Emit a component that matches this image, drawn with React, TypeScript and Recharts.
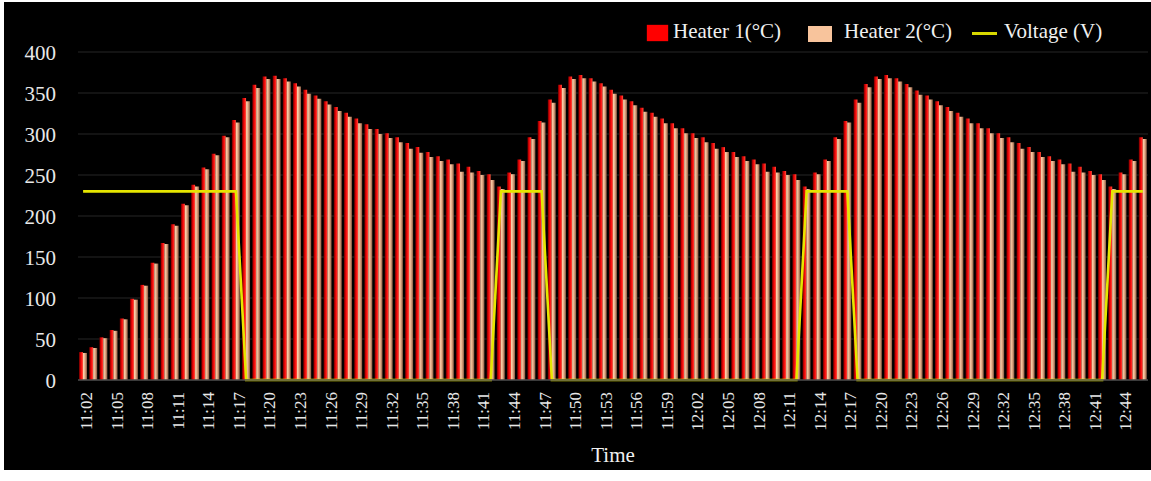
import React from "react";
import {
  ComposedChart,
  Bar,
  Line,
  XAxis,
  YAxis,
  CartesianGrid,
  Label,
} from "recharts";

const times: string[] = [
  "11:02", "11:03", "11:04", "11:05", "11:06", "11:07", "11:08", "11:09", "11:10", "11:11",
  "11:12", "11:13", "11:14", "11:15", "11:16", "11:17", "11:18", "11:19", "11:20", "11:21",
  "11:22", "11:23", "11:24", "11:25", "11:26", "11:27", "11:28", "11:29", "11:30", "11:31",
  "11:32", "11:33", "11:34", "11:35", "11:36", "11:37", "11:38", "11:39", "11:40", "11:41",
  "11:42", "11:43", "11:44", "11:45", "11:46", "11:47", "11:48", "11:49", "11:50", "11:51",
  "11:52", "11:53", "11:54", "11:55", "11:56", "11:57", "11:58", "11:59", "12:00", "12:01",
  "12:02", "12:03", "12:04", "12:05", "12:06", "12:07", "12:08", "12:09", "12:10", "12:11",
  "12:12", "12:13", "12:14", "12:15", "12:16", "12:17", "12:18", "12:19", "12:20", "12:21",
  "12:22", "12:23", "12:24", "12:25", "12:26", "12:27", "12:28", "12:29", "12:30", "12:31",
  "12:32", "12:33", "12:34", "12:35", "12:36", "12:37", "12:38", "12:39", "12:40", "12:41",
  "12:42", "12:43", "12:44", "12:45", "12:46",
];

const heater1: number[] = [
  34, 40, 52, 61, 75, 99, 116, 143, 167, 190,
  215, 238, 259, 276, 298, 317, 344, 360, 370, 371,
  368, 362, 354, 347, 340, 333, 326, 319, 312, 306,
  301, 296, 289, 284, 278, 273, 269, 264, 260, 255,
  251, 236, 253, 269, 296, 316, 342, 360, 370, 372,
  368, 362, 354, 347, 340, 332, 326, 319, 313, 307,
  301, 296, 289, 284, 278, 273, 269, 264, 260, 255,
  251, 236, 253, 269, 296, 316, 342, 361, 370, 372,
  368, 361, 353, 347, 340, 333, 326, 319, 313, 307,
  301, 296, 289, 284, 278, 273, 269, 264, 260, 255,
  251, 236, 253, 269, 296,
];

const heater2: number[] = [
  33, 39, 51, 60, 74, 98, 115, 142, 166, 188,
  213, 236, 257, 274, 296, 314, 340, 356, 367, 367,
  364, 358, 349, 343, 336, 328, 321, 313, 306, 300,
  295, 290, 282, 277, 272, 267, 263, 254, 253, 250,
  244, 233, 251, 267, 294, 314, 338, 356, 367, 368,
  364, 358, 349, 342, 335, 327, 321, 313, 307, 301,
  295, 290, 282, 278, 272, 267, 263, 254, 253, 250,
  244, 233, 251, 267, 294, 314, 338, 357, 367, 368,
  364, 357, 348, 342, 335, 328, 321, 313, 307, 301,
  295, 290, 282, 278, 272, 267, 263, 254, 253, 250,
  244, 233, 251, 267, 294,
];

const voltage: number[] = [
  230, 230, 230, 230, 230, 230, 230, 230, 230, 230,
  230, 230, 230, 230, 230, 230, 0, 0, 0, 0,
  0, 0, 0, 0, 0, 0, 0, 0, 0, 0,
  0, 0, 0, 0, 0, 0, 0, 0, 0, 0,
  0, 230, 230, 230, 230, 230, 0, 0, 0, 0,
  0, 0, 0, 0, 0, 0, 0, 0, 0, 0,
  0, 0, 0, 0, 0, 0, 0, 0, 0, 0,
  0, 230, 230, 230, 230, 230, 0, 0, 0, 0,
  0, 0, 0, 0, 0, 0, 0, 0, 0, 0,
  0, 0, 0, 0, 0, 0, 0, 0, 0, 0,
  0, 230, 230, 230, 230,
];

const yTicks: number[] = [0, 50, 100, 150, 200, 250, 300, 350, 400];

const data = times.map((t, i) => ({
  time: t,
  h1: heater1[i],
  h2: heater2[i],
  v: voltage[i],
}));

const FONT = "'Liberation Serif', 'Times New Roman', serif";

const XTick = (props: any) => {
  const { x, y, payload } = props;
  return (
    <g transform={`translate(${x + 3},${y})`}>
      <text
        transform="rotate(-90)"
        x={-4}
        y={0}
        dy="0.35em"
        textAnchor="end"
        fill="#e8e8e8"
        fontSize={17}
        fontFamily={FONT}
      >
        {payload.value}
      </text>
    </g>
  );
};

const YTick = (props: any) => {
  const { y, payload } = props;
  return (
    <text
      x={56}
      y={y}
      dy={8}
      textAnchor="end"
      fill="#e8e8e8"
      fontSize={21}
      fontFamily={FONT}
    >
      {payload.value}
    </text>
  );
};

const legendText: React.CSSProperties = {
  position: "absolute",
  top: 21,
  fontSize: 21,
  lineHeight: "21px",
  color: "#f0f0f0",
  fontFamily: FONT,
  whiteSpace: "nowrap",
};

export default function App() {
  return (
    <div
      style={{
        position: "absolute",
        left: 0,
        top: 0,
        width: 1151,
        height: 481,
        background: "#ffffff",
        overflow: "hidden",
      }}
    >
      <div
        style={{
          position: "absolute",
          left: 4,
          top: 2,
          width: 1147,
          height: 468,
          background: "#000000",
        }}
      />
      <div style={{ position: "absolute", left: 0, top: 0 }}>
        <ComposedChart
          width={1151}
          height={481}
          data={data}
          margin={{ top: 52, right: 3, left: 18, bottom: 11 }}
          barCategoryGap={1}
          barGap={0}
        >
          <defs>
            <linearGradient id="gRed" x1="0" y1="0" x2="1" y2="0">
              <stop offset="0%" stopColor="#5c0000" />
              <stop offset="30%" stopColor="#c80000" />
              <stop offset="65%" stopColor="#ff1414" />
              <stop offset="100%" stopColor="#ff5a40" />
            </linearGradient>
            <linearGradient id="gPeach" x1="0" y1="0" x2="1" y2="0">
              <stop offset="0%" stopColor="#ffd6b4" />
              <stop offset="45%" stopColor="#e8b08a" />
              <stop offset="100%" stopColor="#865840" />
            </linearGradient>
          </defs>
          <CartesianGrid vertical={false} stroke="#262626" strokeWidth={1} />
          <XAxis
            dataKey="time"
            interval={2}
            tickLine={false}
            axisLine={{ stroke: "#4a4a4a", strokeWidth: 1.5 }}
            tick={<XTick />}
            height={90}
          >
            <Label
              value="Time"
              position="insideBottom"
              offset={8}
              fill="#f0f0f0"
              fontSize={21}
              fontFamily={FONT}
            />
          </XAxis>
          <YAxis
            width={60}
            domain={[0, 400]}
            ticks={yTicks}
            axisLine={false}
            tickLine={false}
            tick={<YTick />}
            interval={0}
          />
          <Bar dataKey="h1" fill="url(#gRed)" isAnimationActive={false} />
          <Bar dataKey="h2" fill="url(#gPeach)" isAnimationActive={false} />
          <Line
            dataKey="v"
            type="linear"
            stroke="#e6e600"
            strokeWidth={2.6}
            dot={false}
            activeDot={false}
            isAnimationActive={false}
          />
        </ComposedChart>
      </div>
      <div
        style={{
          position: "absolute",
          left: 647,
          top: 25,
          width: 21,
          height: 16,
          background: "#ff0000",
          boxShadow: "0 0 1px #ff0000",
        }}
      />
      <div style={{ ...legendText, left: 673 }}>Heater 1(°C)</div>
      <div
        style={{
          position: "absolute",
          left: 808,
          top: 26,
          width: 24,
          height: 16,
          background: "#f8c49c",
        }}
      />
      <div style={{ ...legendText, left: 844 }}>Heater 2(°C)</div>
      <div
        style={{
          position: "absolute",
          left: 972,
          top: 32,
          width: 25,
          height: 3,
          background: "#d8d800",
        }}
      />
      <div style={{ ...legendText, left: 1004 }}>Voltage (V)</div>
    </div>
  );
}
